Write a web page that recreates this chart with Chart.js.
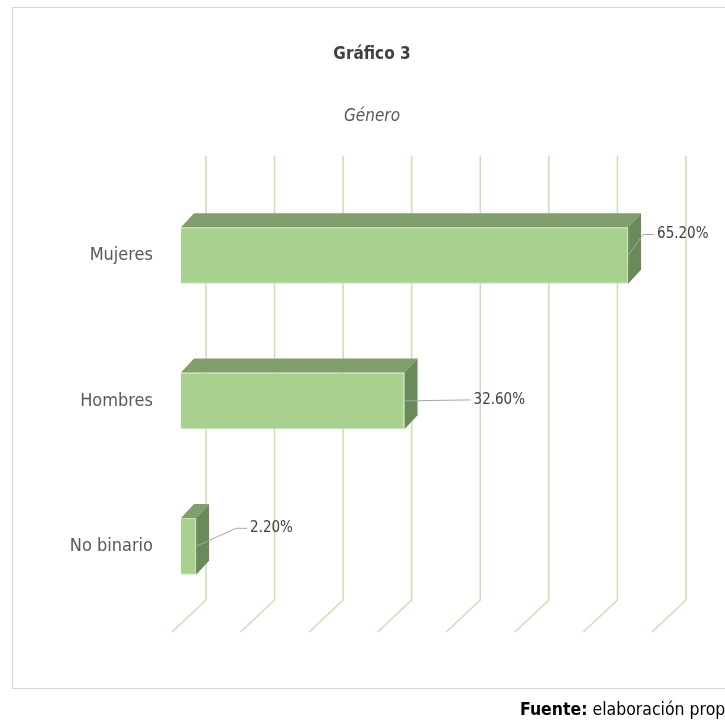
<!DOCTYPE html>
<html>
<head>
<meta charset="utf-8">
<script src="https://cdn.jsdelivr.net/npm/chart.js@4.4.0/dist/chart.umd.min.js"></script>
<style>
  html, body { margin: 0; padding: 0; background: #fff; }
  #wrap { position: relative; width: 725px; height: 723px; overflow: hidden; }
  #frame { position: absolute; left: 12px; top: 7px; width: 730px; height: 682px; border: 1px solid #d9d9d9; box-sizing: border-box; }
  #chart { position: absolute; left: 0; top: 0; }
  #source { position: absolute; left: 520px; top: 699px; white-space: nowrap;
    font-family: 'Liberation Sans Narrow', 'DejaVu Sans Condensed', sans-serif; font-size: 17.5px; color: #000; }
</style>
</head>
<body>
<div id="wrap">
  <div id="frame"></div>
  <canvas id="chart" width="725" height="723"></canvas>
  <div id="source"><b>Fuente:</b> elaboración propia</div>
</div>
<script>
const categories = ['Mujeres', 'Hombres', 'No binario'];
const percentages = [65.2, 32.6, 2.2];
const valueLabels = ['65.20%', '32.60%', '2.20%'];
const axisMax = 70;
const axisStep = 10;

// where Excel put each data label, relative to the end of its bar
const labelOffsets = [[29, -21], [69, -1], [54, -18]];

const FONT = "'Liberation Sans Narrow', 'DejaVu Sans Condensed', sans-serif";
const DEPTH_X = 13, DEPTH_Y = -14;

const wallPlugin = {
    id: 'wall',
    beforeDatasetsDraw(chart) {
        const { ctx, chartArea } = chart;
        const xs = chart.scales.x;
        ctx.save();
        ctx.strokeStyle = '#c5e0b4';
        ctx.lineWidth = 1.5;
        xs.ticks.forEach(t => {
            const px = xs.getPixelForValue(t.value);
            ctx.beginPath();
            ctx.moveTo(px + 25, chartArea.top - 27);
            ctx.lineTo(px + 25, chartArea.bottom - 19);
            ctx.lineTo(px - 9, chartArea.bottom + 13);
            ctx.stroke();
        });
        ctx.restore();
    }
};

const boxPlugin = {
    id: 'box3d',
    afterDatasetsDraw(chart) {
        const { ctx } = chart;
        const meta = chart.getDatasetMeta(0);
        ctx.save();
        meta.data.forEach((bar, i) => {
            const top = bar.y - bar.height / 2;
            const bottom = bar.y + bar.height / 2;
            // top face
            ctx.fillStyle = '#829e6d';
            ctx.beginPath();
            ctx.moveTo(bar.base, top);
            ctx.lineTo(bar.base + DEPTH_X, top + DEPTH_Y);
            ctx.lineTo(bar.x + DEPTH_X, top + DEPTH_Y);
            ctx.lineTo(bar.x, top);
            ctx.closePath();
            ctx.fill();
            // side face
            ctx.fillStyle = '#6c8a59';
            ctx.beginPath();
            ctx.moveTo(bar.x, top);
            ctx.lineTo(bar.x + DEPTH_X, top + DEPTH_Y);
            ctx.lineTo(bar.x + DEPTH_X, bottom + DEPTH_Y);
            ctx.lineTo(bar.x, bottom);
            ctx.closePath();
            ctx.fill();

            // data label with leader line
            const lx = bar.x + labelOffsets[i][0];
            const ly = bar.y + labelOffsets[i][1];
            ctx.strokeStyle = '#a6a6a6';
            ctx.lineWidth = 1;
            ctx.beginPath();
            ctx.moveTo(bar.x, bar.y);
            if (Math.abs(ly - bar.y) > 4) {
                ctx.lineTo(lx - 14, ly);
            }
            ctx.lineTo(lx - 3, ly);
            ctx.stroke();
            ctx.fillStyle = '#404040';
            ctx.font = '15px ' + FONT;
            ctx.textAlign = 'left';
            ctx.textBaseline = 'middle';
            ctx.fillText(valueLabels[i], lx, ly);
        });
        ctx.restore();
    }
};

new Chart(document.getElementById('chart'), {
    type: 'bar',
    data: {
        labels: categories,
        datasets: [{
            data: percentages,
            backgroundColor: '#a9d18e',
            borderColor: '#c9e3b8',
            borderWidth: 1,
            barPercentage: 0.39,
            categoryPercentage: 1
        }]
    },
    options: {
        indexAxis: 'y',
        responsive: false,
        animation: false,
        layout: { padding: { left: 60, right: 41, top: 0, bottom: 104 } },
        scales: {
            x: {
                display: false,
                min: 0,
                max: axisMax,
                ticks: { stepSize: axisStep }
            },
            y: {
                grid: { display: false, drawTicks: false },
                border: { display: false },
                ticks: {
                    color: '#595959',
                    padding: 28,
                    font: { family: FONT, size: 18 }
                },
                afterFit(scale) { scale.width = 121; }
            },
            // empty spacer on the right, keeps the titles centred on the frame
            yRight: {
                type: 'category',
                position: 'right',
                grid: { display: false, drawTicks: false },
                border: { display: false },
                ticks: { display: false },
                afterFit(scale) { scale.width = 23; }
            }
        },
        plugins: {
            legend: { display: false },
            tooltip: { enabled: false },
            title: {
                display: true,
                text: 'Gráfico 3',
                color: '#404040',
                font: { family: FONT, size: 17, weight: 'bold' },
                padding: { top: 44, bottom: 42 }
            },
            subtitle: {
                display: true,
                text: 'Género',
                color: '#595959',
                font: { family: FONT, size: 17, style: 'italic' },
                padding: { top: 0, bottom: 56 }
            }
        }
    },
    plugins: [wallPlugin, boxPlugin]
});
</script>
</body>
</html>
